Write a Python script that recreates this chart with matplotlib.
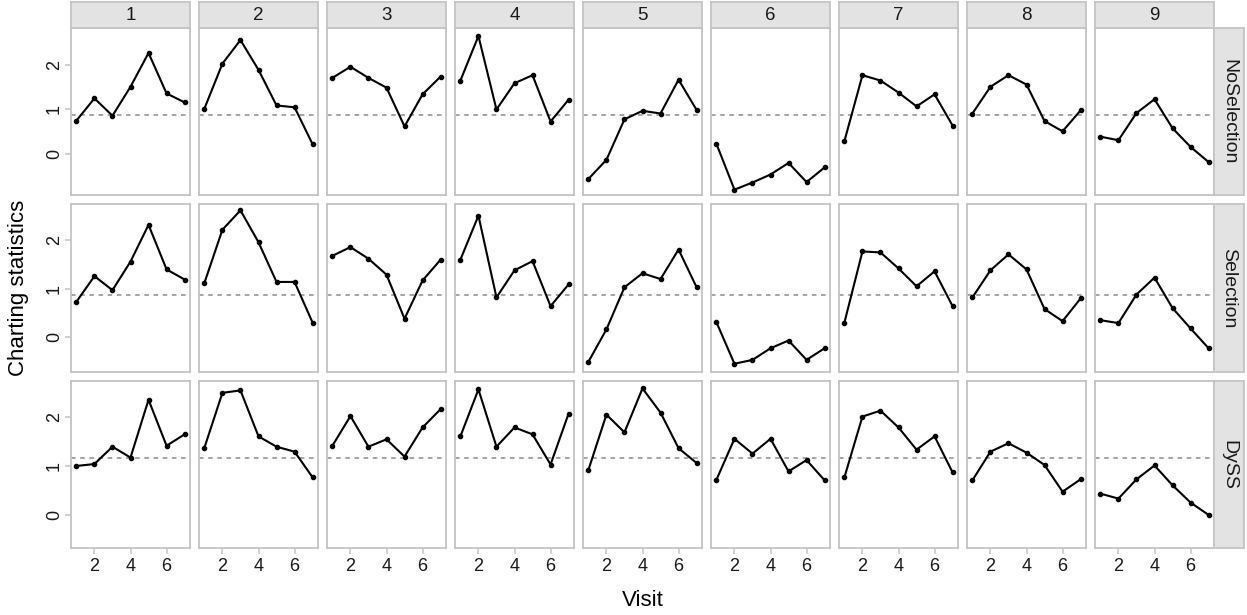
import matplotlib
matplotlib.use("Agg")
import matplotlib.pyplot as plt

plt.rcParams['font.family'] = ['Liberation Sans', 'DejaVu Sans']

visits = [1, 2, 3, 4, 5, 6, 7]
subjects = ['1', '2', '3', '4', '5', '6', '7', '8', '9']
methods = ['NoSelection', 'Selection', 'DySS']

noselection = [
    [0.74, 1.24, 0.85, 1.50, 2.26, 1.35, 1.15],
    [1.01, 2.02, 2.55, 1.88, 1.08, 1.04, 0.21],
    [1.70, 1.95, 1.70, 1.48, 0.61, 1.33, 1.73],
    [1.64, 2.64, 0.99, 1.58, 1.76, 0.72, 1.21],
    [-0.57, -0.14, 0.77, 0.96, 0.90, 1.66, 0.98],
    [0.22, -0.81, -0.65, -0.47, -0.21, -0.64, -0.31],
    [0.28, 1.76, 1.64, 1.37, 1.06, 1.33, 0.63],
    [0.90, 1.50, 1.76, 1.55, 0.73, 0.50, 0.97],
    [0.38, 0.30, 0.91, 1.22, 0.57, 0.15, -0.19],
]
selection = [
    [0.73, 1.26, 0.97, 1.56, 2.32, 1.40, 1.19],
    [1.12, 2.22, 2.62, 1.96, 1.14, 1.14, 0.30],
    [1.68, 1.86, 1.62, 1.29, 0.38, 1.17, 1.60],
    [1.60, 2.51, 0.82, 1.38, 1.57, 0.64, 1.09],
    [-0.51, 0.16, 1.03, 1.32, 1.20, 1.81, 1.03],
    [0.31, -0.55, -0.47, -0.23, -0.07, -0.47, -0.23],
    [0.30, 1.77, 1.75, 1.42, 1.05, 1.36, 0.64],
    [0.82, 1.38, 1.71, 1.40, 0.58, 0.33, 0.80],
    [0.35, 0.29, 0.88, 1.23, 0.60, 0.18, -0.23],
]
dyss = [
    [1.00, 1.04, 1.39, 1.17, 2.34, 1.41, 1.64],
    [1.37, 2.48, 2.53, 1.60, 1.39, 1.29, 0.77],
    [1.41, 2.01, 1.39, 1.54, 1.19, 1.78, 2.15],
    [1.60, 2.55, 1.39, 1.78, 1.64, 1.03, 2.06],
    [0.92, 2.04, 1.68, 2.57, 2.08, 1.36, 1.06],
    [0.72, 1.55, 1.25, 1.55, 0.89, 1.12, 0.71],
    [0.77, 2.00, 2.12, 1.78, 1.33, 1.60, 0.87],
    [0.71, 1.29, 1.46, 1.27, 1.02, 0.48, 0.73],
    [0.44, 0.34, 0.73, 1.01, 0.61, 0.26, 0.01],
]
limits = [0.86, 0.88, 1.17]
row_ylims = [(-0.93, 2.82), (-0.71, 2.74), (-0.66, 2.72)]

rows = [noselection, selection, dyss]

W, H = 1247, 615
fig = plt.figure(figsize=(W / 100, H / 100), dpi=100)

grey_border = '#C4C4C4'
strip_fill = '#E3E3E3'


def px_axes(x, y, w, h):
    return fig.add_axes([x / W, 1 - (y + h) / H, w / W, h / H])


def strip_axes(x, y, w, h):
    sax = px_axes(x, y, w, h)
    sax.set_xticks([])
    sax.set_yticks([])
    sax.set_facecolor(strip_fill)
    for s in sax.spines.values():
        s.set_color(grey_border)
        s.set_linewidth(1.3)
    return sax


left0, pw, colstep = 71, 119, 128
top0, ph, rowstep = 28, 167, 176.5

for r, data in enumerate(rows):
    for c, vals in enumerate(data):
        ax = px_axes(left0 + c * colstep, top0 + r * rowstep, pw, ph)
        ax.plot(visits, vals, color='black', lw=1.5, marker='o', ms=3.0)
        ax.axhline(limits[r], color='#8C8C8C', lw=1.1, ls=(0, (3, 3)), zorder=0)
        ax.set_xlim(0.7, 7.3)
        ax.set_ylim(*row_ylims[r])
        ax.set_xticks([2, 4, 6])
        ax.set_yticks([0, 1, 2])
        for s in ax.spines.values():
            s.set_color(grey_border)
            s.set_linewidth(1.3)
        ax.tick_params(color=grey_border, length=4.3, width=1.1,
                       labelsize=13, labelcolor='#1A1A1A', pad=3)
        if r != 2:
            ax.tick_params(axis='x', bottom=False, labelbottom=False)
        if c != 0:
            ax.tick_params(axis='y', left=False, labelleft=False)
        else:
            ax.tick_params(axis='y', pad=1.5)
            for lab in ax.get_yticklabels():
                lab.set_rotation(90)
                lab.set_va('center')

        if r == 0:
            sax = strip_axes(left0 + c * colstep, 2, pw, 26)
            sax.text(0.5, 0.5, subjects[c], ha='center', va='center',
                     fontsize=13.5, color='#1A1A1A', transform=sax.transAxes)

    rax = strip_axes(left0 + 8 * colstep + pw, top0 + r * rowstep, 30, ph)
    rax.text(0.5, 0.5, methods[r], ha='center', va='center', rotation=270,
             fontsize=14, color='#1A1A1A', transform=rax.transAxes)

fig.text((left0 + 8 * colstep + pw + left0) / 2 / W, 1 - 600 / H, 'Visit',
         ha='center', va='center', fontsize=16)
fig.text(19 / W, 1 - 288 / H, 'Charting statistics', ha='center', va='center',
         rotation=90, fontsize=16)

fig.savefig('out.png', dpi=100)
